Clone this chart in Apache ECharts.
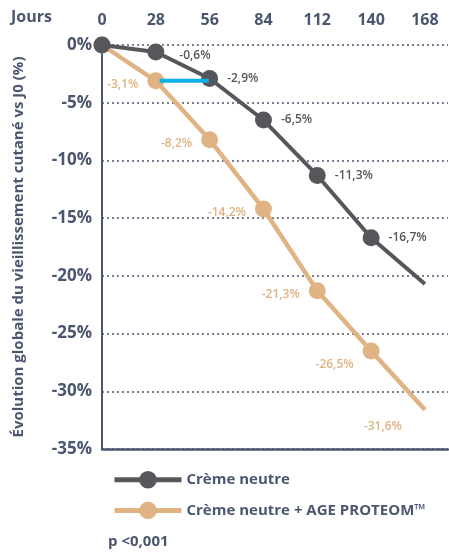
<!DOCTYPE html>
<html>
<head>
<meta charset="utf-8">
<script src="https://cdn.jsdelivr.net/npm/echarts@6/dist/echarts.min.js"></script>
<style>
  html, body { margin: 0; padding: 0; background: #fff; }
  #chart { width: 449px; height: 553px; }
</style>
</head>
<body>
<div id="chart"></div>
<script>
// jours de mesure
const days = [0, 28, 56, 84, 112, 140, 168];
// Crème neutre (dernier point sans marqueur ni étiquette)
const neutre = [0, -0.6, -2.9, -6.5, -11.3, -16.7, -20.7];
// Crème neutre + AGE PROTEOM
const proteom = [0, -3.1, -8.2, -14.2, -21.3, -26.5, -31.6];
// segment bleu entre J28 et J56
const ecartX = [30, 55.5];
const ecartY = [-3.1, -3.1];

const slate = "#4b5670";
const gris = "#55575a";
const beige = "#e0b384";
const bleu = "#0fb0e8";
const font = "'Open Sans', sans-serif";

const chart = echarts.init(document.getElementById("chart"));

function pts(vals, lastPlain) {
  return vals.map((v, i) => {
    const p = { value: [days[i], v] };
    if (lastPlain && i === vals.length - 1) p.symbolSize = 0.1;
    return p;
  });
}

const neutreData = pts(neutre, true);
neutreData[0].label = { show: false };
neutreData[6].label = { show: false };
neutreData[1].label = { offset: [6, 4] };

const proteomData = pts(proteom, true);
proteomData[0].label = { show: false };
proteomData[5].label = { offset: [0, 14] };
proteomData[6].label = { position: "bottom", offset: [-42, 2] };

chart.setOption({
  animation: false,
  textStyle: { fontFamily: font },
  grid: { left: 102, top: 45, right: 1, bottom: 104 },
  xAxis: [
    {
      type: "value",
      position: "top",
      min: 0,
      max: 180,
      interval: 28,
      axisLine: { show: false },
      axisTick: { show: false },
      splitLine: { show: false },
      axisLabel: {
        showMaxLabel: false,
        margin: 17,
        color: slate,
        fontSize: 16,
        fontWeight: "bold",
        fontFamily: font
      }
    },
    {
      type: "value",
      position: "bottom",
      min: 0,
      max: 180,
      axisLine: { show: true, onZero: false, lineStyle: { color: slate, width: 2.5 } },
      axisTick: { show: false },
      axisLabel: { show: false },
      splitLine: { show: false }
    }
  ],
  yAxis: {
    type: "value",
    min: -35,
    max: 0,
    interval: 5,
    name: "Évolution globale du vieillissement cutané vs J0 (%)",
    nameLocation: "middle",
    nameRotate: 90,
    nameGap: 76,
    nameTextStyle: { color: slate, fontSize: 15, fontWeight: "bold", fontFamily: font },
    axisLine: { show: true, onZero: false, lineStyle: { color: slate, width: 2 } },
    axisTick: { show: false },
    axisLabel: {
      margin: 10,
      color: slate,
      fontSize: 17,
      fontWeight: "bold",
      fontFamily: font,
      formatter: v => v + "%"
    },
    splitLine: { lineStyle: { color: slate, type: [2, 3], width: 1.5 } }
  },
  legend: {
    orient: "vertical",
    left: 107,
    top: 466,
    itemWidth: 67,
    itemHeight: 22,
    itemGap: 13,
    data: [
      { name: "Crème neutre", lineStyle: { width: 5 } },
      { name: "Crème neutre + AGE PROTEOM™", lineStyle: { width: 5 } }
    ],
    textStyle: { color: slate, fontSize: 15, fontWeight: "bold", fontFamily: font, padding: [0, 0, 0, 0] }
  },
  graphic: [
    {
      type: "text",
      left: 11,
      top: 9,
      style: { text: "Jours", fill: slate, font: "bold 16px " + font }
    },
    {
      type: "text",
      left: 108,
      top: 534,
      style: { text: "p <0,001", fill: slate, font: "bold 15px " + font }
    }
  ],
  series: [
    {
      name: "Crème neutre",
      type: "line",
      data: neutreData,
      symbol: "circle",
      symbolSize: 17,
      z: 3,
      itemStyle: { color: gris },
      lineStyle: { color: gris, width: 4 },
      label: {
        show: true,
        position: "right",
        distance: 9,
        color: gris,
        fontSize: 12,
        fontWeight: 600,
        fontFamily: font,
        formatter: p => String(p.value[1]).replace(".", ",") + "%"
      }
    },
    {
      name: "Crème neutre + AGE PROTEOM™",
      type: "line",
      data: proteomData,
      symbol: "circle",
      symbolSize: 17,
      z: 2,
      itemStyle: { color: beige },
      lineStyle: { color: beige, width: 4.5 },
      label: {
        show: true,
        position: "left",
        distance: 9,
        offset: [0, 4],
        color: beige,
        fontSize: 12,
        fontWeight: 600,
        fontFamily: font,
        formatter: p => String(p.value[1]).replace(".", ",") + "%"
      }
    },
    {
      name: "écart",
      type: "line",
      data: ecartX.map((x, i) => [x, ecartY[i]]),
      symbol: "none",
      z: 4,
      lineStyle: { color: bleu, width: 4 },
      silent: true
    }
  ]
});
</script>
</body>
</html>
